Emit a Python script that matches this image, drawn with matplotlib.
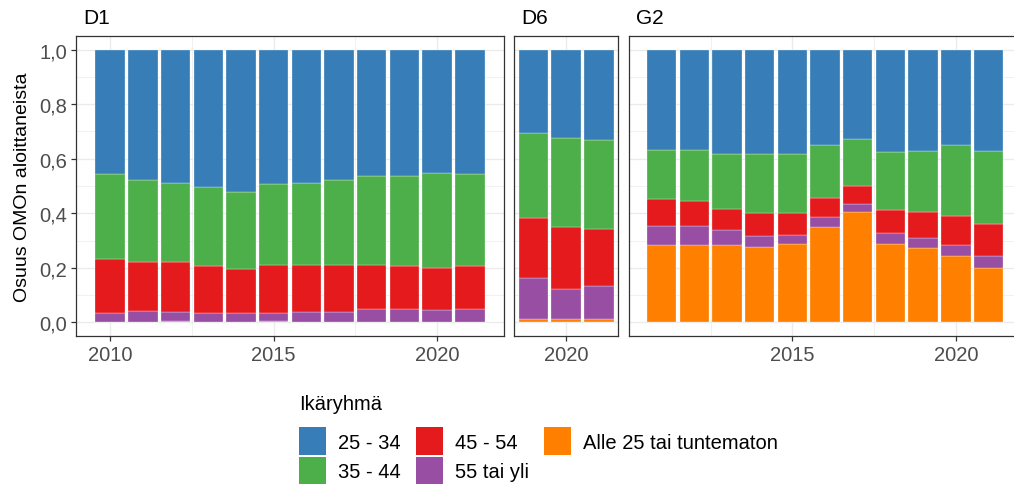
import numpy as np
import matplotlib
matplotlib.use("Agg")
import matplotlib.pyplot as plt
from matplotlib.patches import Patch
from matplotlib.ticker import FuncFormatter, MultipleLocator

plt.rcParams['font.family'] = ['Liberation Sans', 'DejaVu Sans']

groups = ["25 - 34", "35 - 44", "45 - 54", "55 tai yli", "Alle 25 tai tuntematon"]
colors = ["#377EB8", "#4DAF4A", "#E41A1C", "#984EA3", "#FF7F00"]

# D1
d1_years = list(range(2010, 2022))
d1_alle25 = [0.001, 0.001, 0.004, 0.001, 0.001, 0.004, 0.001, 0.001, 0.001, 0.001, 0.001, 0.001]
d1_55 = [0.032, 0.039, 0.035, 0.032, 0.032, 0.030, 0.038, 0.038, 0.047, 0.047, 0.045, 0.047]
d1_45 = [0.199, 0.180, 0.184, 0.174, 0.163, 0.175, 0.170, 0.171, 0.163, 0.158, 0.155, 0.159]
d1_35 = [0.311, 0.303, 0.288, 0.288, 0.283, 0.298, 0.302, 0.313, 0.326, 0.329, 0.345, 0.338]
d1_25 = [0.457, 0.477, 0.489, 0.505, 0.521, 0.493, 0.489, 0.477, 0.463, 0.465, 0.454, 0.455]

# D6
d6_years = [2019, 2020, 2021]
d6_alle25 = [0.011, 0.011, 0.011]
d6_55 = [0.152, 0.113, 0.123]
d6_45 = [0.220, 0.224, 0.210]
d6_35 = [0.313, 0.329, 0.324]
d6_25 = [0.304, 0.323, 0.332]

# G2
g2_years = list(range(2011, 2022))
g2_alle25 = [0.282, 0.285, 0.285, 0.276, 0.289, 0.349, 0.404, 0.289, 0.271, 0.245, 0.200]
g2_55 = [0.070, 0.067, 0.052, 0.039, 0.033, 0.039, 0.030, 0.039, 0.040, 0.040, 0.044]
g2_45 = [0.099, 0.093, 0.079, 0.086, 0.078, 0.069, 0.067, 0.085, 0.095, 0.104, 0.117]
g2_35 = [0.182, 0.188, 0.202, 0.216, 0.218, 0.194, 0.170, 0.211, 0.222, 0.260, 0.268]
g2_25 = [0.367, 0.367, 0.382, 0.383, 0.382, 0.349, 0.329, 0.376, 0.372, 0.351, 0.371]

panels = [
    ("D1", d1_years, [d1_25, d1_35, d1_45, d1_55, d1_alle25]),
    ("D6", d6_years, [d6_25, d6_35, d6_45, d6_55, d6_alle25]),
    ("G2", g2_years, [g2_25, g2_35, g2_45, g2_55, g2_alle25]),
]

W, H = 1014, 485
fig = plt.figure(figsize=(W / 100, H / 100), dpi=100)

px_per_year = 32.7
top, bottom = 37, 337
lefts = [76, 514, 629]
tick_col = "#4d4d4d"
fs = 14.5

for (name, years, shares), left in zip(panels, lefts):
    years = np.array(years)
    lo, hi = years.min() - 0.45, years.max() + 0.45
    pad = (hi - lo) * 0.05
    width = (hi - lo + 2 * pad) * px_per_year
    ax = fig.add_axes([left / W, (H - bottom) / H, width / W, (bottom - top) / H])

    # stack from the bottom: Alle 25, 55+, 45-54, 35-44, 25-34
    base = np.zeros(len(years))
    for i in [4, 3, 2, 1, 0]:
        vals = np.array(shares[i])
        ax.bar(years, vals, bottom=base, width=0.9, color=colors[i],
               edgecolor="white", linewidth=0.2, zorder=3)
        base += vals

    ax.set_xlim(lo - pad, hi + pad)
    ax.set_ylim(-0.05, 1.05)
    ax.xaxis.set_major_locator(MultipleLocator(5))
    ax.xaxis.set_minor_locator(MultipleLocator(2.5))
    ax.yaxis.set_major_locator(MultipleLocator(0.2))
    ax.yaxis.set_minor_locator(MultipleLocator(0.1))
    ax.grid(which="major", color="#ebebeb", linewidth=1.0, zorder=0)
    ax.grid(which="minor", color="#ebebeb", linewidth=0.5, zorder=0)
    ax.set_axisbelow(True)
    for s in ax.spines.values():
        s.set_color("#333333")
        s.set_linewidth(0.9)
    ax.tick_params(which="major", length=3.5, width=0.9, color="#333333",
                   labelcolor=tick_col, labelsize=fs, pad=3)
    ax.tick_params(which="minor", length=0)
    ax.xaxis.set_major_formatter(FuncFormatter(lambda v, p: f"{int(round(v))}"))
    if name == "D1":
        ax.yaxis.set_major_formatter(FuncFormatter(lambda v, p: f"{v:.1f}".replace(".", ",")))
        ax.set_ylabel("Osuus OMOn aloittaneista", fontsize=14, color="black", labelpad=6)
    else:
        ax.tick_params(axis="y", which="both", left=False, labelleft=False)
    ax.text(7 / width, 1 + 9 / (bottom - top), name, transform=ax.transAxes,
            fontsize=15, color="black", ha="left", va="bottom")

fig.text(299 / W, 1 - 405 / H, "Ikäryhmä", fontsize=fs, color="black",
         ha="left", va="center")

handles = [Patch(facecolor=c, edgecolor="none", label=g) for c, g in zip(colors, groups)]
leg = fig.legend(handles=handles, ncol=3, loc="upper left",
                 bbox_to_anchor=(299 / W, 1 - 428 / H), frameon=False,
                 fontsize=fs, borderaxespad=0, borderpad=0,
                 handlelength=1.34, handleheight=1.76, handletextpad=0.6,
                 columnspacing=0.75, labelspacing=0.1)

fig.savefig("out.png", dpi=100)
